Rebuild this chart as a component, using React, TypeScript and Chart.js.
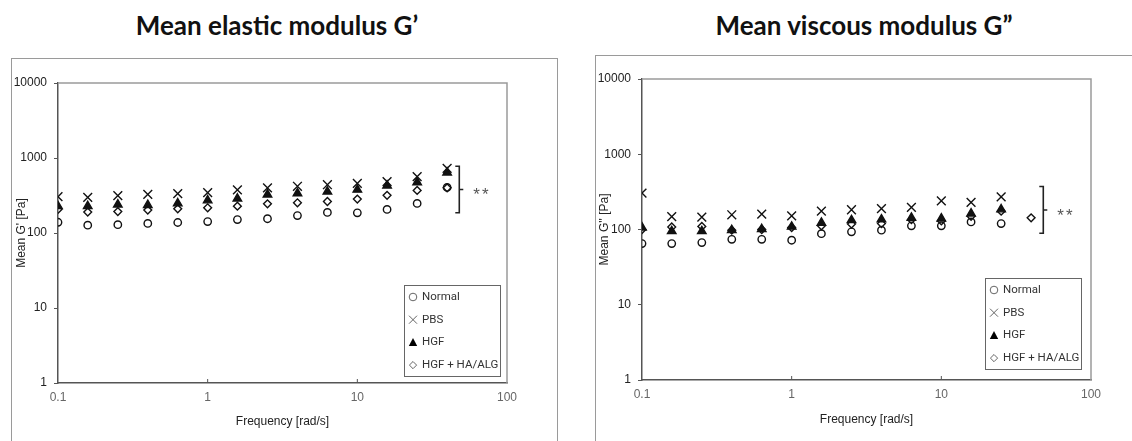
import React, { useEffect, useRef } from "react";
import { Chart, registerables } from "chart.js";
Chart.register(...registerables);

// ---------- data ----------
const frequencies = [0.1, 0.158, 0.251, 0.398, 0.631, 1, 1.58, 2.51, 3.98, 6.31, 10, 15.8, 25.1, 39.8];
const xTicks = [0.1, 1, 10, 100];
const yTicks = [1, 10, 100, 1000, 10000];
const seriesNames = ["Normal", "PBS", "HGF", "HGF + HA/ALG"];

// Mean elastic modulus G'
const elasticNormal = [139, 127, 129, 134, 138, 142, 151, 155, 171, 188, 186, 206, 248, 405];
const elasticPBS = [305, 298, 315, 328, 335, 345, 375, 400, 420, 440, 460, 485, 565, 725];
const elasticHGF = [228, 228, 240, 236, 248, 272, 287, 325, 338, 356, 378, 430, 475, 640];
const elasticHGFHA = [206, 190, 193, 202, 210, 217, 228, 245, 253, 263, 283, 318, 370, 400];

// Mean viscous modulus G''
const viscousNormal = [65, 65, 67, 74, 74, 72, 88, 93, 98, 112, 112, 126, 120];
const viscousPBS = [305, 148, 146, 157, 160, 152, 175, 183, 189, 197, 240, 230, 272];
const viscousHGF = [106, 95, 95, 98, 101, 109, 123, 133, 136, 143, 140, 163, 185];
const viscousHGFHA = [100, 108, 110, 98, 100, 106, 112, 118, 120, 135, 130, 150, 175, 143];

// significance bracket: [x, top, middle, bottom] in data units, star label x
const elasticBracket = [48, 776, 380, 186];
const viscousBracket = [48, 372, 182, 89];
const starsX = 68;

// ---------- styles ----------
const markStyles = [
  { pointStyle: "circle", radius: 3.7, fill: false },
  { pointStyle: "crossRot", radius: 6.2, fill: false },
  { pointStyle: "triangle", radius: 4.9, fill: true },
  { pointStyle: "rectRot", radius: 3.9, fill: false },
];

function toPoints(values: number[]) {
  return values.map((v, i) => ({ x: frequencies[i], y: v }));
}

function drawMarker(ctx: CanvasRenderingContext2D, kind: number, x: number, y: number, color: string) {
  ctx.save();
  ctx.strokeStyle = color;
  ctx.fillStyle = color;
  ctx.lineWidth = 1;
  ctx.beginPath();
  if (kind === 0) {
    ctx.arc(x, y, 3.8, 0, Math.PI * 2);
    ctx.stroke();
  } else if (kind === 1) {
    const h = 4;
    ctx.moveTo(x - h, y - h); ctx.lineTo(x + h, y + h);
    ctx.moveTo(x + h, y - h); ctx.lineTo(x - h, y + h);
    ctx.stroke();
  } else if (kind === 2) {
    ctx.moveTo(x, y - 4.5); ctx.lineTo(x + 4.2, y + 3.5); ctx.lineTo(x - 4.2, y + 3.5); ctx.closePath();
    ctx.fill();
  } else {
    const r = 3.6;
    ctx.moveTo(x, y - r); ctx.lineTo(x + r, y); ctx.lineTo(x, y + r); ctx.lineTo(x - r, y); ctx.closePath();
    ctx.stroke();
  }
  ctx.restore();
}

const framePlugin = {
  id: "frame",
  afterDraw(chart: any, _args: any, opts: any) {
    const { ctx, chartArea: a, scales } = chart;
    ctx.save();
    // top/right plot border
    ctx.strokeStyle = "#9a9a9a";
    ctx.lineWidth = 1.5;
    ctx.beginPath();
    ctx.moveTo(a.left, a.top);
    ctx.lineTo(a.right, a.top);
    ctx.lineTo(a.right, a.bottom);
    ctx.stroke();
    // inner x ticks
    ctx.strokeStyle = "#555";
    ctx.lineWidth = 1;
    xTicks.slice(1, -1).forEach((t) => {
      const px = scales.x.getPixelForValue(t);
      ctx.beginPath();
      ctx.moveTo(px, a.bottom);
      ctx.lineTo(px, a.bottom - 4);
      ctx.stroke();
    });
    // bracket
    const b: number[] = opts.bracket;
    const bx = scales.x.getPixelForValue(b[0]);
    const bt = scales.y.getPixelForValue(b[1]);
    const bm = scales.y.getPixelForValue(b[2]);
    const bb = scales.y.getPixelForValue(b[3]);
    ctx.strokeStyle = "#222";
    ctx.lineWidth = 1.6;
    ctx.beginPath();
    ctx.moveTo(bx - 4, bt); ctx.lineTo(bx, bt); ctx.lineTo(bx, bb); ctx.lineTo(bx - 4, bb);
    ctx.moveTo(bx, bm); ctx.lineTo(bx + 4, bm);
    ctx.stroke();
    ctx.fillStyle = "#555";
    ctx.font = "17px 'Liberation Sans', Arial, sans-serif";
    (ctx as any).letterSpacing = "2px";
    ctx.textAlign = "center";
    ctx.textBaseline = "middle";
    ctx.fillText("**", scales.x.getPixelForValue(starsX), bm + 6);
    (ctx as any).letterSpacing = "0px";
    // legend
    const w = 96, h = 91;
    const lx = a.right - opts.legendOffset[0] - w;
    const ly = a.bottom - opts.legendOffset[1] - h;
    ctx.fillStyle = "#fff";
    ctx.fillRect(lx, ly, w, h);
    ctx.strokeStyle = "#666";
    ctx.lineWidth = 1;
    ctx.strokeRect(lx + 0.5, ly + 0.5, w, h);
    ctx.textAlign = "left";
    ctx.font = "11.5px Roboto, 'Noto Sans', sans-serif";
    seriesNames.forEach((name, i) => {
      const ry = ly + 12 + i * 22.7;
      drawMarker(ctx, i, lx + 9, ry, i === 2 ? "#000" : "#666");
      ctx.fillStyle = "#333";
      ctx.fillText(name, lx + 18, ry);
    });
    ctx.restore();
  },
};

function buildConfig(series: number[][], yTitle: string, geo: any, bracket: number[]) {
  const datasets = series.map((vals, i) => ({
    label: seriesNames[i],
    data: toPoints(vals),
    showLine: false,
    pointStyle: markStyles[i].pointStyle,
    pointRadius: markStyles[i].radius,
    pointHoverRadius: markStyles[i].radius,
    pointBorderWidth: 1.4,
    borderColor: "#111",
    backgroundColor: markStyles[i].fill ? "#111" : "rgba(0,0,0,0)",
  }));
  return {
    type: "scatter" as const,
    data: { datasets },
    plugins: [framePlugin],
    options: {
      animation: false,
      responsive: false,
      devicePixelRatio: 1,
      layout: { padding: { left: 0, right: geo.padRight, top: geo.padTop, bottom: 0 } },
      plugins: {
        legend: { display: false },
        tooltip: { enabled: false },
        frame: { bracket, legendOffset: geo.legendOffset },
      },
      scales: {
        x: {
          type: "logarithmic",
          min: 0.1,
          max: 100,
          afterBuildTicks: (s: any) => { s.ticks = xTicks.map((v) => ({ value: v })); },
          afterFit: (s: any) => { s.height = geo.xHeight; },
          grid: { display: false, drawTicks: false },
          border: { display: true, color: "#555", width: 1.5 },
          ticks: {
            padding: 7,
            color: "#666",
            font: { size: 12, family: "'Liberation Sans', Arial, sans-serif" },
            callback: (v: any) => String(v),
            maxRotation: 0,
            autoSkip: false,
          },
          title: {
            display: true,
            text: "Frequency [rad/s]",
            color: "#222",
            font: { size: 12, family: "'Liberation Sans', Arial, sans-serif" },
            padding: { top: 0, bottom: geo.xTitlePad },
          },
        },
        y: {
          type: "logarithmic",
          min: 1,
          max: 10000,
          afterBuildTicks: (s: any) => { s.ticks = yTicks.map((v) => ({ value: v })); },
          afterFit: (s: any) => { s.width = geo.yWidth; },
          grid: { display: true, drawOnChartArea: false, drawTicks: true, tickLength: 4, color: "#555" },
          border: { display: true, color: "#555", width: 1.5 },
          ticks: {
            padding: 7,
            color: "#222",
            font: { size: 12, family: "'Liberation Sans', Arial, sans-serif" },
            callback: (v: any) => String(v),
            autoSkip: false,
          },
          title: {
            display: true,
            text: yTitle,
            color: "#222",
            font: { size: 12, family: "'Liberation Sans', Arial, sans-serif" },
            padding: { top: geo.yTitlePad, bottom: 0 },
          },
        },
      },
    },
  };
}

function Panel({ config, left }: { config: any; left: number }) {
  const ref = useRef<HTMLCanvasElement>(null);
  useEffect(() => {
    const chart = new Chart(ref.current as HTMLCanvasElement, config);
    return () => chart.destroy();
  }, []);
  return (
    <canvas
      ref={ref}
      width={566}
      height={441}
      style={{ position: "absolute", left, top: 0, width: 566, height: 441 }}
    />
  );
}

const titleStyle: React.CSSProperties = {
  position: "absolute",
  top: 8,
  width: 400,
  textAlign: "center",
  fontFamily: "Lato, 'Open Sans', sans-serif",
  fontWeight: 700,
  fontSize: 26,
  lineHeight: "34px",
  color: "#111",
  whiteSpace: "nowrap",
};

export default function App() {
  const leftConfig = buildConfig(
    [elasticNormal, elasticPBS, elasticHGF, elasticHGFHA],
    "Mean G' [Pa]",
    { padRight: 59, padTop: 83, xHeight: 58, yWidth: 58, xTitlePad: 12, yTitlePad: 14, legendOffset: [7, 7] },
    elasticBracket
  );
  const rightConfig = buildConfig(
    [viscousNormal, viscousPBS, viscousHGF, viscousHGFHA],
    "Mean G'' [Pa]",
    { padRight: 41, padTop: 79, xHeight: 61, yWidth: 76, xTitlePad: 14, yTitlePad: 31, legendOffset: [10, 11] },
    viscousBracket
  );
  return (
    <div style={{ position: "fixed", left: 0, top: 0, width: 1132, height: 441, background: "#fff", overflow: "hidden" }}>
      <div style={{ position: "absolute", left: 11, top: 58, width: 545, height: 420, border: "1.5px solid #9a9a9a" }} />
      <div style={{ position: "absolute", left: 595, top: 55, width: 560, height: 420, border: "1.5px solid #9a9a9a" }} />
      <div style={{ ...titleStyle, left: 277 - 200 }}>Mean elastic modulus G’</div>
      <div style={{ ...titleStyle, left: 864 - 200 }}>Mean viscous modulus G”</div>
      <Panel config={leftConfig} left={0} />
      <Panel config={rightConfig} left={566} />
    </div>
  );
}
